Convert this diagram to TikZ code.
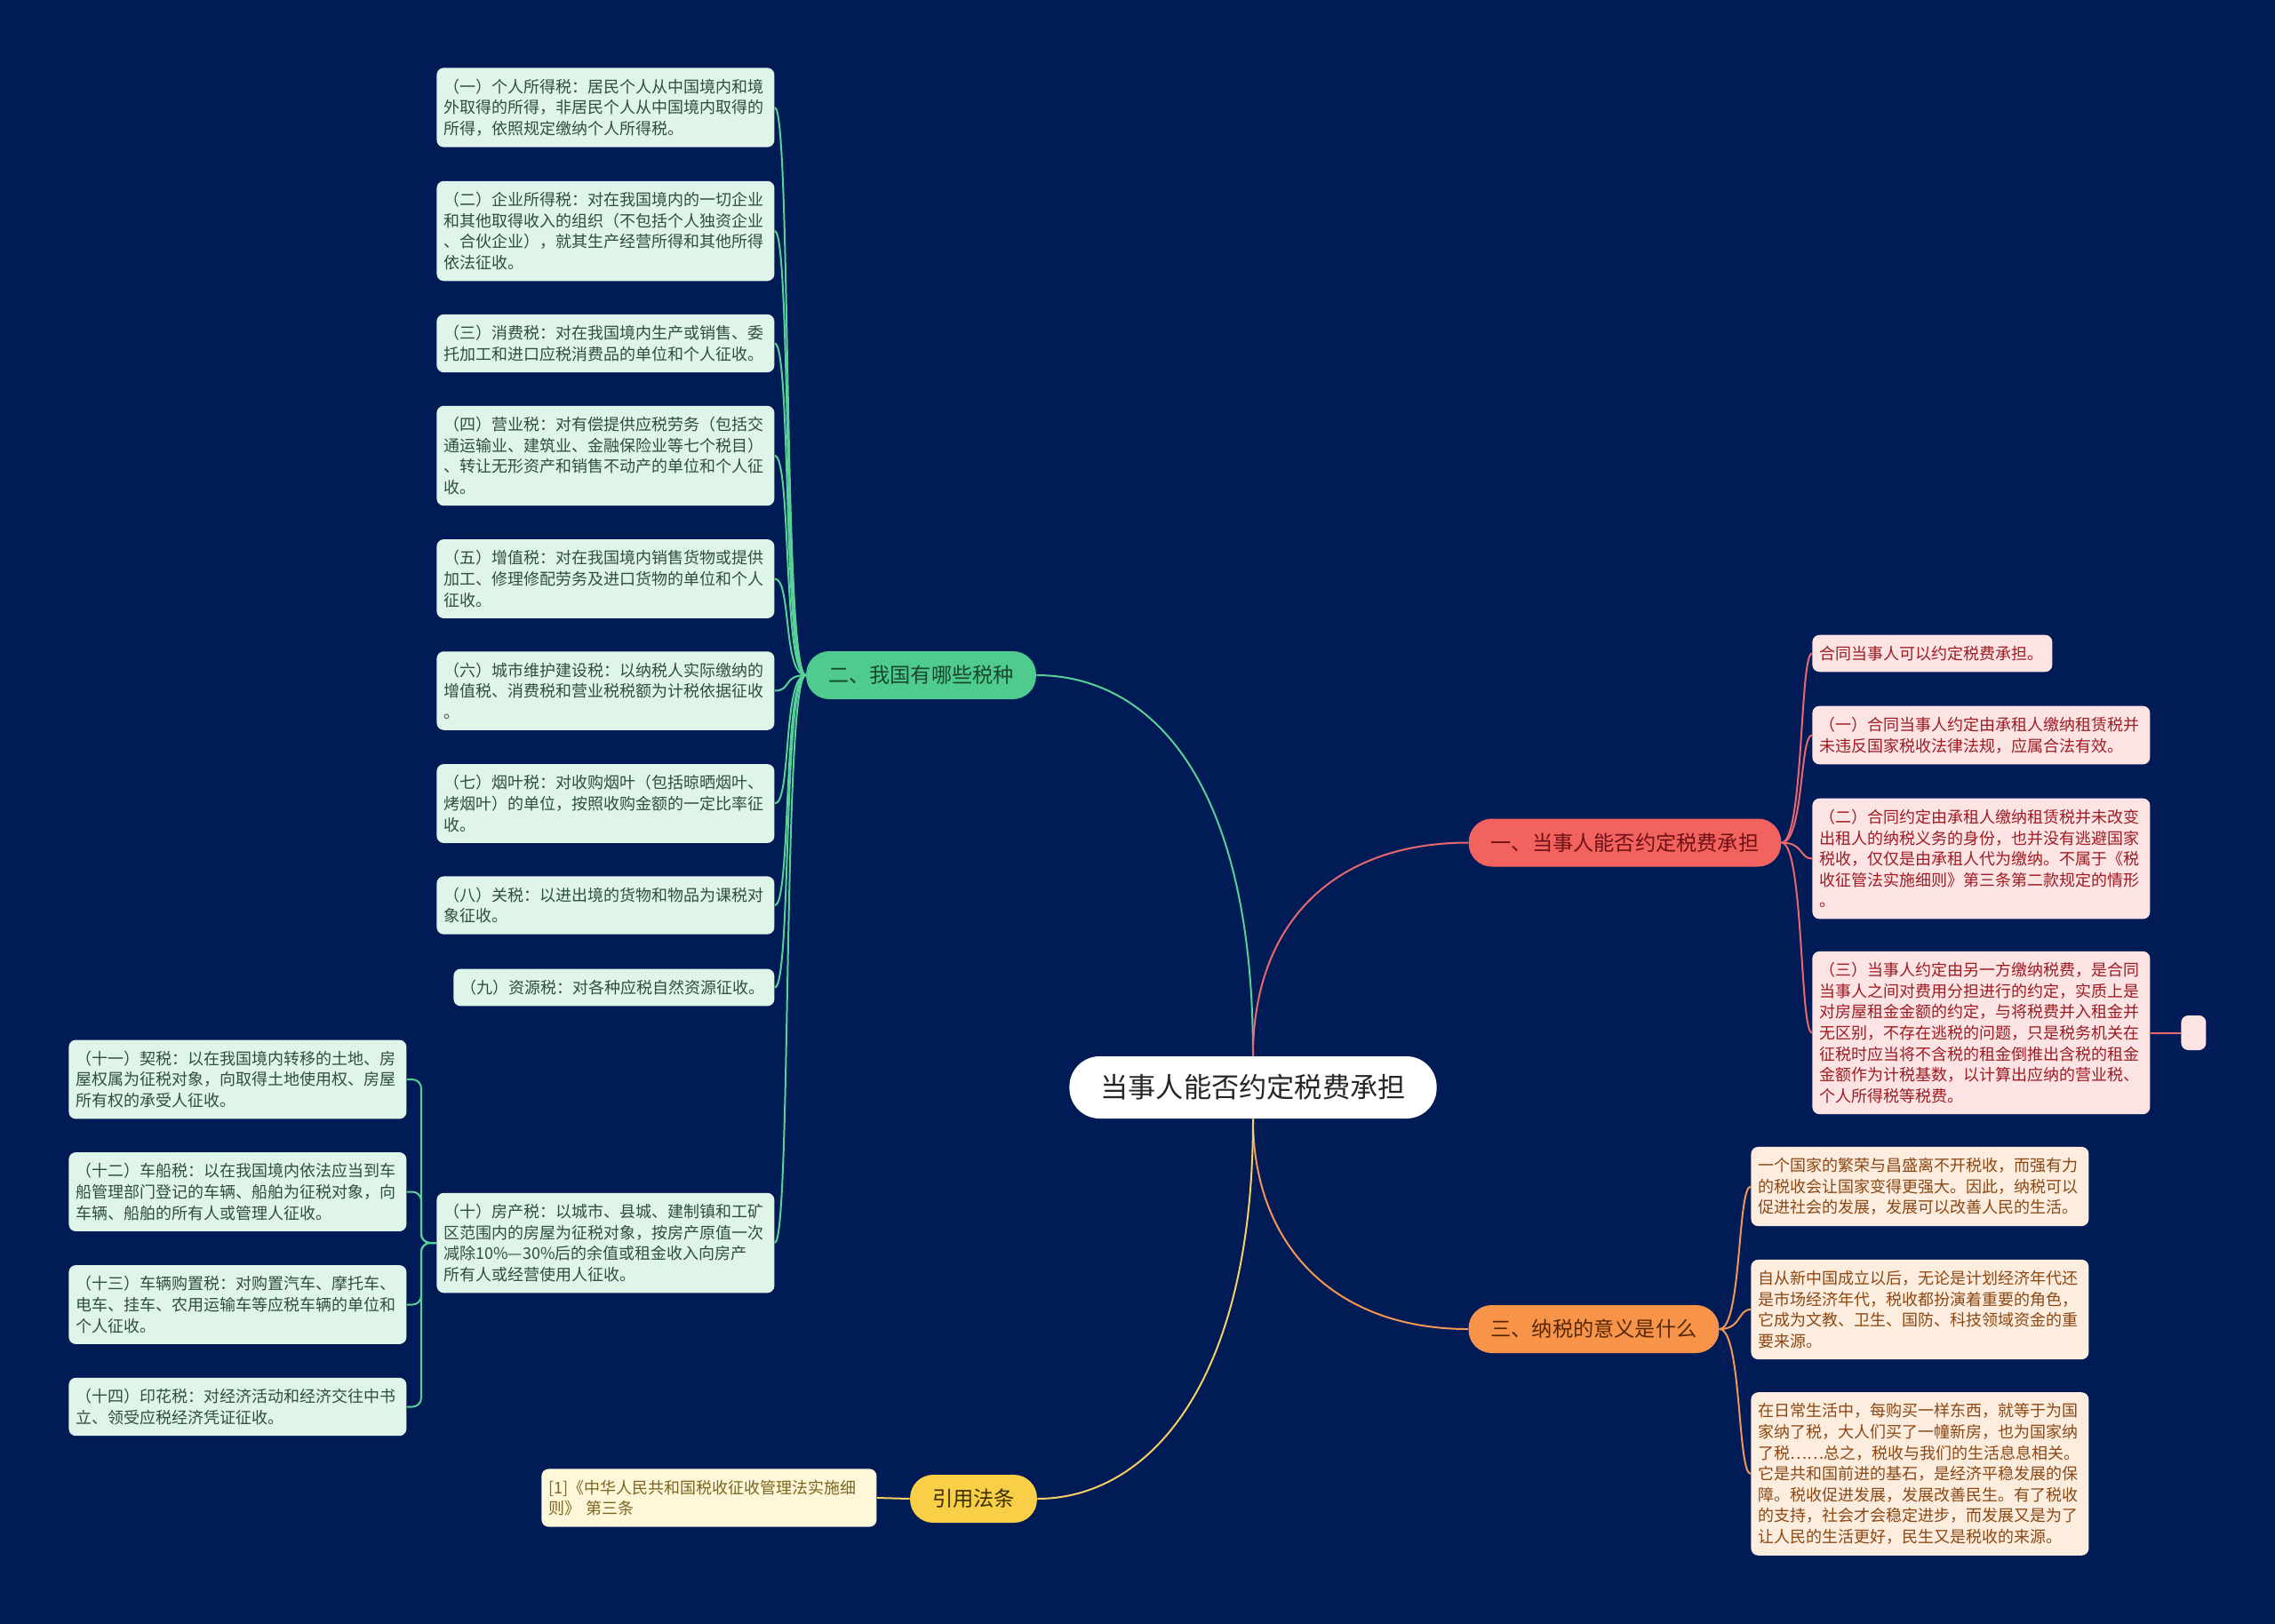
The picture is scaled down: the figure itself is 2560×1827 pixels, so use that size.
\documentclass[tikz,border=0pt]{standalone}
\usepackage{fontspec}
\setmainfont{Noto Sans CJK SC}
\definecolor{bgnavy}{RGB}{1,27,87}
\definecolor{gline}{RGB}{88,208,150}
\definecolor{gtopic}{RGB}{78,203,141}
\definecolor{gtopictext}{RGB}{24,72,46}
\definecolor{gleaf}{RGB}{224,245,234}
\definecolor{gleaftext}{RGB}{46,78,62}
\definecolor{rline}{RGB}{232,104,110}
\definecolor{rtopic}{RGB}{242,98,95}
\definecolor{rtopictext}{RGB}{110,16,20}
\definecolor{rleaf}{RGB}{253,228,228}
\definecolor{rleaftext}{RGB}{158,28,34}
\definecolor{oline}{RGB}{244,150,84}
\definecolor{otopic}{RGB}{248,148,74}
\definecolor{otopictext}{RGB}{88,40,6}
\definecolor{oleaf}{RGB}{253,237,223}
\definecolor{oleaftext}{RGB}{140,72,20}
\definecolor{yline}{RGB}{246,208,96}
\definecolor{ytopic}{RGB}{249,207,72}
\definecolor{ytopictext}{RGB}{56,46,0}
\definecolor{yleaf}{RGB}{255,247,218}
\definecolor{yleaftext}{RGB}{122,102,30}
\tikzset{
  centre/.style={fill=white, text=black!85, rounded corners=17pt, minimum height=35pt, inner xsep=17.5pt, font=\fontsize{15.6}{18}\selectfont},
  topic/.style={rounded corners=13pt, minimum height=27pt, inner xsep=12.5pt, font=\fontsize{11.6}{14}\selectfont},
  leaf/.style={rounded corners=4pt, anchor=west, align=left, text width=182pt, inner xsep=4pt, inner ysep=6.2pt, font=\fontsize{9}{11.8}\selectfont},
  gleafbox/.style={leaf, fill=gleaf, text=gleaftext},
  rleafbox/.style={leaf, fill=rleaf, text=rleaftext},
  oleafbox/.style={leaf, fill=oleaf, text=oleaftext},
  yleafbox/.style={leaf, fill=yleaf, text=yleaftext},
  link/.style={line width=1pt}
}
\begin{document}
\begin{tikzpicture}[x=0.5pt,y=0.5pt,yscale=-1,xscale=1]
    \useasboundingbox (0,0) rectangle (2560,1827);
    \fill [bgnavy] (-10,-10) rectangle (2570,1837);

    \node [centre] (root) at (1410,1224) {当事人能否约定税费承担};
    \node [topic, fill=rtopic, text=rtopictext] (rights) at (1828.5,948.5) {一、当事人能否约定税费承担};
    \node [topic, fill=gtopic, text=gtopictext] (kinds) at (1036.5,760) {二、我国有哪些税种};
    \node [topic, fill=otopic, text=otopictext] (meaning) at (1793.5,1496) {三、纳税的意义是什么};
    \node [topic, fill=ytopic, text=ytopictext] (law) at (1095.5,1687) {引用法条};

    \node [gleafbox] (tax1) at (491,121) {（一）个人所得税：居民个人从中国境内和境\\外取得的所得，非居民个人从中国境内取得的\\所得，依照规定缴纳个人所得税。};
    \node [gleafbox] (tax2) at (491,260) {（二）企业所得税：对在我国境内的一切企业\\和其他取得收入的组织（不包括个人独资企业\\、合伙企业），就其生产经营所得和其他所得\\依法征收。};
    \node [gleafbox] (tax3) at (491,386.5) {（三）消费税：对在我国境内生产或销售、委\\托加工和进口应税消费品的单位和个人征收。};
    \node [gleafbox] (tax4) at (491,513) {（四）营业税：对有偿提供应税劳务（包括交\\通运输业、建筑业、金融保险业等七个税目）\\、转让无形资产和销售不动产的单位和个人征\\收。};
    \node [gleafbox] (tax5) at (491,651.5) {（五）增值税：对在我国境内销售货物或提供\\加工、修理修配劳务及进口货物的单位和个人\\征收。};
    \node [gleafbox] (tax6) at (491,777.5) {（六）城市维护建设税：以纳税人实际缴纳的\\增值税、消费税和营业税税额为计税依据征收\\。};
    \node [gleafbox] (tax7) at (491,904.5) {（七）烟叶税：对收购烟叶（包括晾晒烟叶、\\烤烟叶）的单位，按照收购金额的一定比率征\\收。};
    \node [gleafbox] (tax8) at (491,1019) {（八）关税：以进出境的货物和物品为课税对\\象征收。};
    \node [gleafbox, text width=172.5pt] (tax9) at (510,1111.5) {（九）资源税：对各种应税自然资源征收。};
    \node [gleafbox] (tax10) at (491,1399) {（十）房产税：以城市、县城、建制镇和工矿\\区范围内的房屋为征税对象，按房产原值一次\\减除10\%—30\%后的余值或租金收入向房产\\所有人或经营使用人征收。};
    \node [gleafbox] (tax11) at (77,1215) {（十一）契税：以在我国境内转移的土地、房\\屋权属为征税对象，向取得土地使用权、房屋\\所有权的承受人征收。};
    \node [gleafbox] (tax12) at (77,1341.5) {（十二）车船税：以在我国境内依法应当到车\\船管理部门登记的车辆、船舶为征税对象，向\\车辆、船舶的所有人或管理人征收。};
    \node [gleafbox] (tax13) at (77,1468.5) {（十三）车辆购置税：对购置汽车、摩托车、\\电车、挂车、农用运输车等应税车辆的单位和\\个人征收。};
    \node [gleafbox] (tax14) at (77,1583.5) {（十四）印花税：对经济活动和经济交往中书\\立、领受应税经济凭证征收。};

    \node [rleafbox, text width=127pt] (deal0) at (2039,735.5) {合同当事人可以约定税费承担。};
    \node [rleafbox] (deal1) at (2039,827.5) {（一）合同当事人约定由承租人缴纳租赁税并\\未违反国家税收法律法规，应属合法有效。};
    \node [rleafbox] (deal2) at (2039,966.5) {（二）合同约定由承租人缴纳租赁税并未改变\\出租人的纳税义务的身份，也并没有逃避国家\\税收，仅仅是由承租人代为缴纳。不属于《税\\收征管法实施细则》第三条第二款规定的情形\\。};
    \node [rleafbox] (deal3) at (2039,1162.5) {（三）当事人约定由另一方缴纳税费，是合同\\当事人之间对费用分担进行的约定，实质上是\\对房屋租金金额的约定，与将税费并入租金并\\无区别，不存在逃税的问题，只是税务机关在\\征税时应当将不含税的租金倒推出含税的租金\\金额作为计税基数，以计算出应纳的营业税、\\个人所得税等税费。};
    \node [fill=rleaf, rounded corners=4pt, anchor=west, minimum width=14pt, minimum height=19.5pt, inner sep=0pt] (deal4) at (2454,1162.5) {};

    \node [oleafbox] (why1) at (1970,1335.5) {一个国家的繁荣与昌盛离不开税收，而强有力\\的税收会让国家变得更强大。因此，纳税可以\\促进社会的发展，发展可以改善人民的生活。};
    \node [oleafbox] (why2) at (1970,1474) {自从新中国成立以后，无论是计划经济年代还\\是市场经济年代，税收都扮演着重要的角色，\\它成为文教、卫生、国防、科技领域资金的重\\要来源。};
    \node [oleafbox] (why3) at (1970,1659) {在日常生活中，每购买一样东西，就等于为国\\家纳了税，大人们买了一幢新房，也为国家纳\\了税……总之，税收与我们的生活息息相关。\\它是共和国前进的基石，是经济平稳发展的保\\障。税收促进发展，发展改善民生。有了税收\\的支持，社会才会稳定进步，而发展又是为了\\让人民的生活更好，民生又是税收的来源。};

    \node [yleafbox, text width=180.5pt] (cite1) at (609,1686) {[1]《中华人民共和国税收征收管理法实施细\\则》 第三条};

    \draw [link, gline] (root.north) .. controls +(0,-319) and +(123,0) .. (kinds.east);
    \draw [link, rline] (root.north) .. controls +(0,-149) and +(-152,0) .. (rights.west);
    \draw [link, oline] (root.south) .. controls +(0,141) and +(-152,0) .. (meaning.west);
    \draw [link, yline] (root.south) .. controls +(0,301) and +(123,0) .. (law.east);

    \draw [link, gline] (kinds.west) .. controls +(-26,0) and +(19,0) .. (tax1.east);
    \draw [link, gline] (kinds.west) .. controls +(-26,0) and +(19,0) .. (tax2.east);
    \draw [link, gline] (kinds.west) .. controls +(-26,0) and +(19,0) .. (tax3.east);
    \draw [link, gline] (kinds.west) .. controls +(-26,0) and +(19,0) .. (tax4.east);
    \draw [link, gline] (kinds.west) .. controls +(-26,0) and +(19,0) .. (tax5.east);
    \draw [link, gline] (kinds.west) .. controls +(-26,0) and +(19,0) .. (tax6.east);
    \draw [link, gline] (kinds.west) .. controls +(-26,0) and +(19,0) .. (tax7.east);
    \draw [link, gline] (kinds.west) .. controls +(-26,0) and +(19,0) .. (tax8.east);
    \draw [link, gline] (kinds.west) .. controls +(-26,0) and +(19,0) .. (tax9.east);
    \draw [link, gline] (kinds.west) .. controls +(-26,0) and +(19,0) .. (tax10.east);
    \draw [link, gline, rounded corners=5pt] (tax10.west) -- ++(-17,0) |- (tax11.east);
    \draw [link, gline, rounded corners=5pt] (tax10.west) -- ++(-17,0) |- (tax12.east);
    \draw [link, gline, rounded corners=5pt] (tax10.west) -- ++(-17,0) |- (tax13.east);
    \draw [link, gline, rounded corners=5pt] (tax10.west) -- ++(-17,0) |- (tax14.east);

    \draw [link, rline] (rights.east) .. controls +(25,0) and +(-14,0) .. (deal0.west);
    \draw [link, rline] (rights.east) .. controls +(25,0) and +(-14,0) .. (deal1.west);
    \draw [link, rline] (rights.east) .. controls +(25,0) and +(-14,0) .. (deal2.west);
    \draw [link, rline] (rights.east) .. controls +(25,0) and +(-14,0) .. (deal3.west);
    \draw [link, rline] (deal3.east) -- (deal4.west);

    \draw [link, oline] (meaning.east) .. controls +(25,0) and +(-15,0) .. (why1.west);
    \draw [link, oline] (meaning.east) .. controls +(25,0) and +(-15,0) .. (why2.west);
    \draw [link, oline] (meaning.east) .. controls +(25,0) and +(-15,0) .. (why3.west);

    \draw [link, yline] (law.west) -- (cite1.east);
\end{tikzpicture}
\end{document}
